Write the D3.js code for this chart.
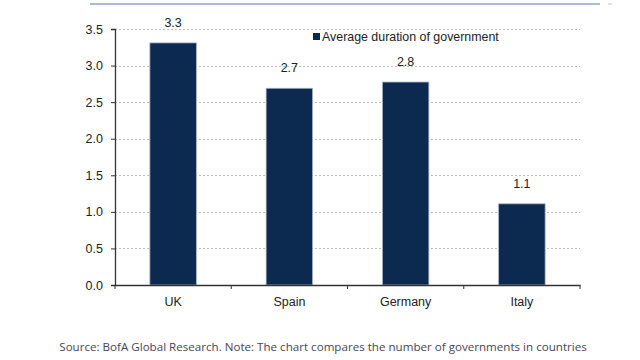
<!DOCTYPE html>
<html><head><meta charset="utf-8">
<script src="https://cdn.jsdelivr.net/npm/d3@7"></script>
<style>body{margin:0;background:#fff}svg{display:block}</style>
</head><body>
<svg id="c" width="640" height="360"></svg>
<script>
const categories = ["UK", "Spain", "Germany", "Italy"];
const values = [3.31, 2.69, 2.775, 1.11];
const valueLabels = ["3.3", "2.7", "2.8", "1.1"];
const yTicks = [0, 0.5, 1.0, 1.5, 2.0, 2.5, 3.0, 3.5];
const seriesName = "Average duration of government";
const sourceNote = "Source: BofA Global Research. Note: The chart compares the number of governments in countries";

const svg = d3.select("#c");
const L = 115, R = 580, T = 29, B = 285;
const x = d3.scaleBand().domain(categories).range([L, R]).paddingInner(0.6).paddingOuter(0.3);
const y = d3.scaleLinear().domain([0, 3.5]).range([B, T]);
const step = (R - L) / categories.length;
const font = "Liberation Sans, Arial, sans-serif";

// top rule
svg.append("line").attr("x1", 90).attr("x2", 600).attr("y1", 4).attr("y2", 4)
  .attr("stroke", "#8ea6c4").attr("stroke-width", 1.5);
svg.append("line").attr("x1", 608).attr("x2", 612).attr("y1", 4).attr("y2", 4)
  .attr("stroke", "#b9c8da").attr("stroke-width", 1);

// gridlines
svg.append("g").selectAll("line").data(yTicks.filter(d => d > 0)).join("line")
  .attr("x1", L).attr("x2", R)
  .attr("y1", d => Math.round(y(d)) + 0.5).attr("y2", d => Math.round(y(d)) + 0.5)
  .attr("stroke", "#bdbdbd").attr("stroke-dasharray", "2,2").attr("stroke-width", 1);

// bars
svg.append("g").selectAll("rect").data(values).join("rect")
  .attr("x", (d, i) => x(categories[i]))
  .attr("width", x.bandwidth())
  .attr("y", d => y(d))
  .attr("height", d => B - y(d))
  .attr("fill", "#0c2a50")
  .attr("stroke", "#a9b6c8").attr("stroke-width", 0.8);

// value labels
svg.append("g").selectAll("text").data(values).join("text")
  .attr("x", (d, i) => x(categories[i]) + x.bandwidth() / 2)
  .attr("y", d => y(d) - 16)
  .attr("text-anchor", "middle")
  .attr("font-family", font)
  .attr("font-size", 12.5).attr("fill", "#222")
  .text((d, i) => valueLabels[i]);

// y axis
const yAxis = d3.axisLeft(y).tickValues(yTicks).tickFormat(d3.format(".1f")).tickSize(4).tickPadding(8);
const gy = svg.append("g").attr("transform", `translate(${L},0)`).call(yAxis);
gy.select(".domain").attr("stroke", "#333").attr("stroke-width", 1.3);
gy.selectAll(".tick line").attr("stroke", "#333");
gy.selectAll("text").attr("font-family", font).attr("font-size", 12.5).attr("fill", "#222");

// x axis
const xAxis = d3.axisBottom(x).tickSize(0).tickPadding(12);
const gx = svg.append("g").attr("transform", `translate(0,${B})`).call(xAxis);
gx.select(".domain").attr("stroke", "#333").attr("stroke-width", 1.3);
gx.selectAll("text").attr("font-family", font).attr("font-size", 12.5).attr("fill", "#222");
gx.append("g").selectAll("line").data(d3.range(categories.length + 1)).join("line")
  .attr("x1", i => L + i * step).attr("x2", i => L + i * step)
  .attr("y1", 0).attr("y2", 4).attr("stroke", "#333");

// legend
svg.append("rect").attr("x", 313).attr("y", 33).attr("width", 7).attr("height", 7).attr("fill", "#0c2a50");
svg.append("text").attr("x", 322).attr("y", 41)
  .attr("font-family", font).attr("font-size", 12.4).attr("fill", "#222")
  .text(seriesName);

// source
svg.append("text").attr("x", 323).attr("y", 351).attr("text-anchor", "middle")
  .attr("font-family", "Open Sans, sans-serif").attr("font-size", 11.6).attr("fill", "#4a4555")
  .text(sourceNote);
</script>
</body></html>
